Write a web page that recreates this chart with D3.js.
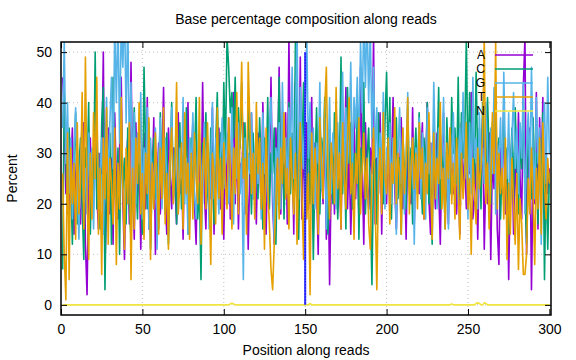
<!DOCTYPE html>
<html>
<head>
<meta charset="utf-8">
<script src="https://cdn.jsdelivr.net/npm/d3@7"></script>
<style>
  body { margin: 0; background: #fff; }
  svg text { font-family: "Liberation Sans", Arial, sans-serif; fill: #000; }
</style>
</head>
<body>
<div class="chart"></div>
<script>
const margin = { top: 42, bottom: 45, left: 61, right: 25 };
const width = 576 - margin.left - margin.right;
const height = 360 - margin.top - margin.bottom;

// percentages per read position (1..300)
const baseA = [
  45,38,22,30,18,27,35,14,25,31,20,16,28,36,12,2,24,33,19,27,
  40,22,15,30,26,50,8,21,35,18,29,12,38,24,17,31,45,20,9,27,
  33,16,48,25,13,36,22,30,11,26,34,19,41,15,28,23,37,10,24,32,
  18,27,43,21,14,35,26,19,31,24,16,38,22,29,13,33,25,40,17,28,
  36,20,12,30,27,18,44,23,15,32,26,21,39,14,29,24,35,19,28,13,
  31,22,37,17,26,42,20,33,15,28,24,36,18,30,11,27,38,21,25,16,
  34,29,19,40,23,14,31,26,45,20,12,35,24,47,18,29,22,38,16,53,
  25,33,14,44,27,20,49,17,30,23,36,19,28,41,15,32,24,10,34,26,
  20,37,13,29,4,25,31,18,40,22,27,15,35,24,43,19,30,14,26,38,
  21,33,17,47,28,12,36,24,19,31,26,53,16,29,22,38,14,32,25,20,
  35,18,27,41,23,15,30,26,37,19,28,13,33,24,20,39,16,31,25,22,
  29,36,17,26,40,21,14,32,27,19,34,23,12,30,38,20,25,16,35,28,
  22,31,18,27,14,36,24,29,19,33,26,42,17,21,28,13,30,24,37,11,
  26,20,34,9,29,23,36,15,8,31,22,40,18,27,5,24,33,14,30,20,
  38,25,17,43,53,10,28,35,3,26,20,42,15,37,24,41,18,30,22,27
];
const baseC = [
  7,42,30,18,35,24,12,29,38,16,27,33,20,9,31,25,40,14,28,22,
  50,19,30,15,36,43,3,26,21,34,12,45,24,18,31,10,37,23,29,16,
  35,20,13,28,39,25,17,32,22,14,47,30,19,36,11,26,33,21,28,15,
  38,24,29,18,34,12,27,40,21,31,16,25,36,19,30,22,39,14,26,33,
  20,29,41,17,24,5,32,27,38,22,19,35,28,16,31,42,25,34,21,44,
  30,53,47,38,42,33,45,27,39,31,44,26,36,22,40,29,18,34,25,30,
  21,37,28,15,33,24,41,19,30,26,35,12,29,45,23,38,17,31,27,40,
  22,34,19,52,26,13,32,28,44,16,25,36,20,30,9,27,39,23,18,33,
  29,41,24,14,35,27,20,38,31,17,26,49,22,33,15,43,28,36,19,30,
  24,39,13,31,26,44,18,29,35,21,4,27,33,16,38,25,30,20,36,46,
  28,41,17,32,24,37,21,29,14,34,26,19,39,23,31,16,28,35,22,38,
  27,18,33,25,40,20,30,12,36,24,29,43,19,32,26,15,37,28,22,41,
  30,35,24,45,21,38,29,33,53,26,42,31,37,24,46,28,35,19,40,32,
  25,41,30,20,36,27,44,22,33,17,29,38,24,31,14,26,35,21,39,28,
  18,32,27,40,23,12,34,29,21,37,25,30,16,33,24,38,5,27,11,26
];
const baseG = [
  35,52,28,40,22,33,17,30,39,24,13,29,36,20,27,18,34,25,31,15,
  29,38,21,26,33,14,30,41,23,36,45,27,55,40,58,32,56,47,60,36,
  57,30,44,25,38,20,34,28,42,17,31,24,39,15,33,26,22,35,11,29,
  37,19,28,33,24,15,30,39,22,27,35,18,31,25,41,20,29,14,33,26,
  38,22,17,30,34,27,20,36,24,31,15,28,40,21,33,25,18,30,37,23,
  28,34,20,27,39,16,31,25,36,22,29,5,33,18,30,26,38,21,28,35,
  24,32,17,38,26,29,20,35,41,23,13,31,27,36,19,44,28,33,22,39,
  30,47,25,36,55,21,43,33,27,38,53,29,40,24,35,19,32,28,44,23,
  30,37,15,27,41,22,34,29,19,36,25,31,46,24,39,28,33,48,26,41,
  35,45,30,52,38,57,43,58,40,55,33,47,29,39,22,34,27,42,19,31,
  26,36,20,33,28,14,30,39,24,35,18,29,42,22,27,33,12,31,25,37,
  21,34,28,17,39,26,32,23,44,29,19,35,25,30,41,22,28,15,33,27,
  38,24,31,20,35,28,42,25,30,17,36,22,45,29,33,19,38,27,31,24,
  40,30,21,35,26,43,18,32,28,37,23,46,29,25,38,20,33,42,27,35,
  22,36,29,44,18,31,38,25,47,30,21,41,28,35,12,33,40,24,45,30
];
const baseT = [
  26,10,1,34,5,31,20,28,13,36,18,24,42,15,49,22,9,30,17,38,
  25,45,14,27,6,33,21,39,12,29,24,16,35,8,28,19,41,23,11,31,
  20,36,5,27,15,33,24,40,18,26,13,30,22,37,9,28,19,34,25,14,
  31,21,39,16,26,11,29,35,20,27,44,18,24,32,15,38,22,28,13,30,
  17,34,25,20,41,12,27,33,19,36,23,8,30,26,16,39,21,29,14,32,
  24,19,37,27,15,31,22,42,18,33,48,25,29,14,48,36,22,30,17,40,
  26,33,19,28,11,35,23,16,7,3,12,20,29,17,31,24,38,21,27,15,
  33,25,18,30,12,27,36,22,9,29,17,26,2,34,20,31,24,14,37,28,
  21,39,47,25,17,32,27,20,43,23,30,15,36,26,19,33,41,22,28,13,
  30,24,37,18,27,34,21,29,16,11,26,35,20,3,24,31,18,38,25,22,
  33,16,28,24,39,20,30,26,14,35,22,29,41,18,27,33,23,30,19,36,
  25,31,17,28,22,38,26,13,34,21,29,24,40,19,27,15,32,25,35,20,
  28,17,33,24,13,30,21,26,36,19,25,10,29,22,16,31,23,27,34,53,
  20,28,15,24,38,26,52,19,30,22,27,17,33,9,24,14,29,20,12,26,
  7,21,16,6,6,10,25,18,31,22,8,27,19,33,14,36,24,17,29,24
];
const baseN = [
  0,0,0,0,0,0,0,0,0,0,0,0,0,0,0,0,0,0,0,0,
  0,0,0,0,0,0,0,0,0,0,0,0,0,0,0,0,0,0,0,0,
  0,0,0,0,0,0,0,0,0,0,0,0,0,0,0,0,0,0,0,0,
  0,0,0,0,0,0,0,0,0,0,0,0,0,0,0,0,0,0,0,0,
  0,0,0,0,0,0,0,0,0,0,0,0,0,0,0,0,0,0,0,0,
  0,0,0,0.2,0.3,0.2,0,0,0,0,0,0,0,0,0,0,0,0,0,0,
  0,0,0,0,0,0,0,0,0,0,0,0,0,0,0,0,0,0,0,0,
  0,0,0,0,0,0,0,0,0,0,0,0,0.3,0,0,0,0,0,0,0,
  0,0,0,0,0,0,0,0,0,0,0,0,0,0,0,0,0,0,0,0,
  0,0,0,0,0,0,0,0,0,0,0,0,0,0,0,0,0,0,0,0,
  0,0,0,0,0,0,0,0,0,0,0,0,0,0,0,0,0,0,0,0,
  0,0,0,0,0,0,0,0,0,0,0,0,0,0,0,0,0,0,0,0.2,
  0,0,0,0,0,0,0,0,0,0,0,0,0,0,0.3,0.4,0.3,0,0,0.4,
  0.3,0,0,0,0,0,0,0,0,0,0,0,0,0,0,0,0,0,0,0,
  0,0,0,0,0,0,0,0,0,0,0,0,0,0,0,0,0,0,0,0
];

const seriesNames = ["A", "C", "G", "T", "N"];
const seriesColors = ["#9400d3", "#009e73", "#56b4e9", "#e69f00", "#f0e442"];
const seriesValues = [baseA, baseC, baseG, baseT, baseN];

const xTicks = [0, 50, 100, 150, 200, 250, 300];
const yTicks = [0, 10, 20, 30, 40, 50];

// vertical marker at the read-pair boundary
const markerPos = 150;
const markerTop = 50;

const font_size = "14px";

const svg = d3.select(".chart")
    .append("svg")
    .attr("width", 576)
    .attr("height", 360)
    .append("g")
    .attr("transform", `translate(${margin.left},${margin.top})`);

const x_scale = d3.scaleLinear().domain([0, 301]).range([0, width]);
const y_scale = d3.scaleLinear().domain([-2, 52]).range([height, 0]);

svg.append("defs").append("clipPath")
    .attr("id", "plot_clip")
    .append("rect")
    .attr("width", width)
    .attr("height", height);

// grid
svg.append("g")
    .selectAll("line")
    .data(xTicks.filter(d => d > 0 && d < 300))
    .enter()
    .append("line")
    .attr("x1", d => x_scale(d)).attr("x2", d => x_scale(d))
    .attr("y1", 0).attr("y2", height)
    .attr("stroke", "#b0b0b0")
    .attr("stroke-width", 0.8)
    .attr("stroke-dasharray", "1,3");

svg.append("g")
    .selectAll("line")
    .data(yTicks)
    .enter()
    .append("line")
    .attr("x1", 0).attr("x2", width)
    .attr("y1", d => y_scale(d)).attr("y2", d => y_scale(d))
    .attr("stroke", "#b0b0b0")
    .attr("stroke-width", 0.8)
    .attr("stroke-dasharray", "1,3");

// data lines
const line = d3.line()
    .x((d, i) => x_scale(i + 1))
    .y(d => y_scale(d));

const plot = svg.append("g").attr("clip-path", "url(#plot_clip)");

seriesValues.forEach(function(vals, k) {
    plot.append("path")
        .datum(vals)
        .attr("fill", "none")
        .attr("stroke", seriesColors[k])
        .attr("stroke-width", 1.6)
        .attr("stroke-linejoin", "round")
        .attr("d", line);
});

plot.append("line")
    .attr("x1", x_scale(markerPos)).attr("x2", x_scale(markerPos))
    .attr("y1", y_scale(0)).attr("y2", y_scale(markerTop))
    .attr("stroke", "#1a1aff")
    .attr("stroke-width", 2);

plot.append("line")
    .attr("x1", x_scale(markerPos)).attr("x2", x_scale(markerPos))
    .attr("y1", y_scale(0)).attr("y2", y_scale(markerTop))
    .attr("stroke", "#8080ff")
    .attr("stroke-width", 0.8)
    .attr("stroke-dasharray", "1,2");

// legend (no box, drawn over the data)
const legend = svg.append("g");
seriesNames.forEach(function(name, k) {
    const ly = 13 + k * 14;
    legend.append("text")
        .attr("x", 424)
        .attr("y", ly)
        .attr("dy", "0.35em")
        .attr("text-anchor", "end")
        .style("font-size", "12px")
        .text(name);
    legend.append("line")
        .attr("x1", 434).attr("x2", 472)
        .attr("y1", ly).attr("y2", ly)
        .attr("stroke", seriesColors[k])
        .attr("stroke-width", 1.6);
});

// axes, ticks pointing inwards and mirrored
function styleAxis(g) {
    g.select(".domain").remove();
    g.selectAll("line").attr("stroke", "#000");
    g.selectAll("text").style("font-size", font_size);
}

svg.append("g")
    .attr("transform", `translate(0,${height})`)
    .call(d3.axisBottom(x_scale).tickValues(xTicks).tickSize(-6).tickPadding(9))
    .call(styleAxis);

svg.append("g")
    .call(d3.axisTop(x_scale).tickValues(xTicks).tickSize(-6).tickFormat(""))
    .call(styleAxis);

svg.append("g")
    .call(d3.axisLeft(y_scale).tickValues(yTicks).tickSize(-6).tickPadding(9))
    .call(styleAxis);

svg.append("g")
    .attr("transform", `translate(${width},0)`)
    .call(d3.axisRight(y_scale).tickValues(yTicks).tickSize(-6).tickFormat(""))
    .call(styleAxis);

svg.append("rect")
    .attr("width", width)
    .attr("height", height)
    .attr("fill", "none")
    .attr("stroke", "#000")
    .attr("stroke-width", 1.5);

// titles
svg.append("text")
    .attr("x", width / 2)
    .attr("y", -18)
    .attr("text-anchor", "middle")
    .style("font-size", font_size)
    .text("Base percentage composition along reads");

svg.append("text")
    .attr("x", width / 2)
    .attr("y", height + 40)
    .attr("text-anchor", "middle")
    .style("font-size", font_size)
    .text("Position along reads");

svg.append("text")
    .attr("transform", `translate(${-44},${height / 2}) rotate(-90)`)
    .attr("text-anchor", "middle")
    .style("font-size", font_size)
    .text("Percent");
</script>
</body>
</html>
